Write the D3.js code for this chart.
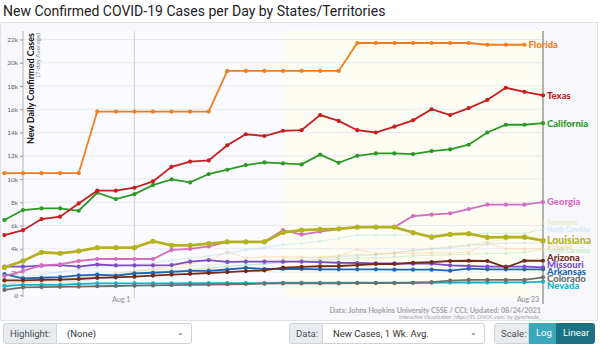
<!DOCTYPE html>
<html>
<head>
<meta charset="utf-8">
<script src="https://cdn.jsdelivr.net/npm/d3@7"></script>
<style>
  body { margin: 0; width: 600px; height: 346px; overflow: hidden; background: #fff; font-family: Roboto, "Liberation Sans", sans-serif; }
  #chart { position: absolute; left: 0; top: 0; }
  .grp { position: absolute; top: 323px; height: 21px; display: flex; font-size: 9.5px; color: #495057; }
  .grp div { flex: none; box-sizing: border-box; height: 21px; line-height: 19px; border: 1px solid #ced4da; white-space: nowrap; }
  .lab { background: #e9ecef; padding: 0 6px; border-radius: 3px 0 0 3px; }
  .sel { background: #fff; padding: 0 10px; border-left: none !important; border-radius: 0 3px 3px 0; position: relative; color: #333; }
  .sel span { position: absolute; right: 7px; top: -1px; font-size: 8px; color: #555; }
  .btn { color: #fff; padding: 0 7px; border: none !important; }
</style>
</head>
<body>
<svg id="chart" width="600" height="346"></svg>

<div class="grp" style="left:3px;width:189px">
  <div class="lab" style="width:54px">Highlight:</div>
  <div class="sel" style="width:135px">(None)<span>&#8964;</span></div>
</div>
<div class="grp" style="left:289px;width:196px">
  <div class="lab" style="width:34px">Data:</div>
  <div class="sel" style="width:162px">New Cases, 1 Wk. Avg.<span>&#8964;</span></div>
</div>
<div class="grp" style="left:494px;width:101px">
  <div class="lab" style="width:35px">Scale:</div>
  <div class="btn" style="width:27px;background:#3aa7bb">Log</div>
  <div class="btn" style="width:39px;background:#1c7283;border-radius:0 3px 3px 0">Linear</div>
</div>

<script>
// ---- data (7-day average of new daily cases) ----
var days = ["2021-07-25","2021-07-26","2021-07-27","2021-07-28","2021-07-29","2021-07-30",
            "2021-07-31","2021-08-01","2021-08-02","2021-08-03","2021-08-04","2021-08-05",
            "2021-08-06","2021-08-07","2021-08-08","2021-08-09","2021-08-10","2021-08-11",
            "2021-08-12","2021-08-13","2021-08-14","2021-08-15","2021-08-16","2021-08-17",
            "2021-08-18","2021-08-19","2021-08-20","2021-08-21","2021-08-22","2021-08-23"];

var florida    = [10500,10500,10500,10500,10500,15800,15800,15800,15800,15800,15800,15800,19300,19300,19300,19300,19300,19300,19300,21700,21700,21700,21700,21700,21700,21700,21550,21550,21550];
var texas      = [5180,5600,6560,6760,7900,9000,9000,9250,9800,11050,11500,11600,12900,13850,13700,14150,14200,15500,15000,14200,14000,14500,15050,16000,15500,16100,16800,17850,17500,17200];
var california = [6470,7330,7480,7480,7270,8820,8280,8700,9480,9970,9710,10430,10800,11200,11430,11350,11260,12100,11400,12000,12200,12200,12150,12400,12550,12950,14000,14670,14670,14800];
var georgia    = [1660,2090,2580,2660,2950,3120,3120,3120,3120,3900,4000,4200,4600,4600,4600,5600,5220,5480,5700,5870,5870,5870,6820,6930,7050,7420,7790,7790,7790,8020];
var louisiana  = [2400,2950,3700,3600,3800,4100,4100,4100,4650,4300,4300,4450,4600,4600,4600,5420,5600,5670,5720,5870,5870,5870,5400,5000,5240,5300,4990,5000,5000,4700];
var missouri   = [2460,2460,2550,2600,2460,2650,2570,2570,2580,2600,2890,3030,2870,2890,2890,2890,2890,2860,2800,2780,2750,2750,2720,2720,2580,2520,2460,2460,2460,2400];
var arizona    = [1290,1290,1320,1350,1400,1500,1550,1600,1700,1780,1850,1920,2000,2080,2150,2380,2440,2500,2520,2600,2690,2690,2800,2860,2950,2970,2950,2400,2970,2970];
var arkansas   = [1830,1460,1510,1570,1720,1780,1680,1890,1940,2020,2100,2100,2220,2360,2260,2280,2260,2230,2230,2230,2230,2200,2200,2200,2120,2290,2230,2230,2230,2230];
var colorado   = [460,690,710,730,750,780,800,830,850,880,900,920,950,970,1000,1030,1030,1030,1030,1050,1050,1050,1080,1140,1260,1320,1320,1320,1320,1550];
var nevada     = [800,890,890,890,970,1030,1030,1030,1030,1030,1050,1050,1050,1050,1050,1080,1080,1080,1080,1080,1080,1080,1080,1080,1100,1100,1100,1120,1120,1170];
var tennessee  = [1000,1100,1200,1300,1500,1600,1800,2000,2200,2300,2500,2600,2700,2900,3000,3100,3200,3300,3400,3500,3500,3700,3800,4000,4200,4300,4600,4800,5000,6200];
var northCarolina = [1400,1600,1800,2000,2200,2400,2500,2600,2800,3000,3200,3400,3600,3900,4100,4350,4450,4650,4900,5180,5180,5180,5180,5180,5330,5330,5330,5330,5330,5670];
var alabama    = [1000,1100,1200,1300,1500,1700,1900,2100,2300,2500,2700,3000,3750,3200,3300,3300,3300,3200,3400,3950,3600,3600,3600,3650,3650,3700,4500,4000,4000,4000];
var southCarolina = [800,900,1000,1100,1200,1400,1500,1700,1900,2000,2200,2300,2500,2600,2700,2800,2900,3000,3100,3200,3200,3300,3400,3450,3500,3550,3600,3600,3700,3950];
var mississippi = [1200,1300,1400,1500,1600,1700,1800,1900,2000,2100,2200,2350,2500,2600,2700,2900,3000,3100,3300,3400,3500,3600,3900,4000,4100,4300,4400,4500,4500,4500];

var yTickValues = [0,2000,4000,6000,8000,10000,12000,14000,16000,18000,20000,22000];
var xTickDays   = ["2021-08-01","2021-08-23"];
var highlightFrom = "2021-08-09";

// ---- series table (faint ones first so they sit underneath) ----
var series = [
  {name:"Mississippi",    values:mississippi,   color:"#aec7e8", faint:true, noLabel:true},
  {name:"South Carolina", values:southCarolina, color:"#98df8a", faint:true},
  {name:"Alabama",        values:alabama,       color:"#ffbb78", faint:true},
  {name:"North Carolina", values:northCarolina, color:"#9edae5", faint:true},
  {name:"Tennessee",      values:tennessee,     color:"#dbdb8d", faint:true},
  {name:"Nevada",         values:nevada,        color:"#17b3c8", big:true},
  {name:"Colorado",       values:colorado,      color:"#6e6e6e", big:true},
  {name:"Arkansas",       values:arkansas,      color:"#1f66b0", big:true},
  {name:"Missouri",       values:missouri,      color:"#7b4ec0", big:true},
  {name:"Arizona",        values:arizona,       color:"#74291b", big:true},
  {name:"Georgia",        values:georgia,       color:"#d66cc2"},
  {name:"Louisiana",      values:louisiana,     color:"#b4b31f", big:true, thick:true},
  {name:"California",     values:california,    color:"#2a9a25"},
  {name:"Texas",          values:texas,         color:"#c81d1d"},
  {name:"Florida",        values:florida,       color:"#f27d1c"}
];

var parse = d3.timeParse("%Y-%m-%d");
var svg = d3.select("#chart");

var x = d3.scaleTime()
    .domain([parse(days[0]), parse(days[days.length - 1])])
    .range([4.4, 543]);
var y = d3.scaleLinear()
    .domain([0, 22000])
    .range([295.3, 39.5]);

var plotTop = 31, plotBottom = 297, axisX = 23;

// chart box + backgrounds
svg.append("rect").attr("x", 0.5).attr("y", 22.5).attr("width", 597).attr("height", 298)
    .attr("fill", "#f7f7fc").attr("stroke", "#e2e2e8");
svg.append("rect").attr("x", axisX).attr("y", plotTop)
    .attr("width", x(parse(highlightFrom)) - axisX).attr("height", plotBottom - plotTop)
    .attr("fill", "#fafaff");
svg.append("rect").attr("x", x(parse(highlightFrom))).attr("y", plotTop)
    .attr("width", x(parse(days[days.length - 1])) - x(parse(highlightFrom))).attr("height", plotBottom - plotTop)
    .attr("fill", "#fdfdf3");

// title
svg.append("text").attr("x", 3).attr("y", 16)
    .style("font-family", "Roboto, sans-serif").style("font-size", "14px").style("fill", "#222")
    .text("New Confirmed COVID-19 Cases per Day by States/Territories");

// horizontal grid
svg.append("g").selectAll("line").data(yTickValues.slice(1)).enter().append("line")
    .attr("x1", axisX).attr("x2", 543)
    .attr("y1", function(d){ return y(d); }).attr("y2", function(d){ return y(d); })
    .attr("stroke", "#e9e9f0");

// y axis
var yAxis = svg.append("g").attr("transform", "translate(" + axisX + ",0)")
    .call(d3.axisLeft(y).tickValues(yTickValues).tickFormat(d3.format("~s")).tickSize(3).tickPadding(2));
yAxis.select(".domain").attr("stroke", "#b0b0b8").attr("d", "M0," + plotTop + "V" + plotBottom);
yAxis.selectAll(".tick line").attr("stroke", "#999");
yAxis.selectAll("text").style("font-size", "6.5px").style("fill", "#666").style("font-family", "Lato, sans-serif");

// x reference lines & labels
xTickDays.forEach(function(d, i){
    var xp = x(parse(d));
    svg.append("line").attr("x1", xp).attr("x2", xp).attr("y1", plotTop).attr("y2", i ? 304 : 298)
        .attr("stroke", i ? "#8d8d8d" : "#cfcfd4").attr("stroke-width", i ? 1.3 : 1);
    svg.append("text").attr("x", xp - 4).attr("y", 302).attr("text-anchor", "end")
        .style("font-family", "Lato, sans-serif").style("font-size", "7px").style("fill", "#8a8a8a")
        .text(d3.timeFormat("%b %-d")(parse(d)));
});

// axis titles
svg.append("text").attr("transform", "translate(34,33) rotate(-90)").attr("text-anchor", "end")
    .style("font-family", "Lato, sans-serif").style("font-weight", "bold").style("font-size", "9px").style("fill", "#111")
    .text("New Daily Confirmed Cases");
svg.append("text").attr("transform", "translate(40,33) rotate(-90)").attr("text-anchor", "end")
    .style("font-family", "Lato, sans-serif").style("font-size", "6.5px").style("fill", "#888")
    .text("(7-day Average)");

// lines + dots
var line = d3.line()
    .x(function(d){ return x(d.date); })
    .y(function(d){ return y(d.value); });

var labels = [];
series.forEach(function(s){
    var pts = s.values.map(function(v, i){ return {date: parse(days[i]), value: v}; });
    var g = svg.append("g").attr("opacity", s.faint ? 0.4 : 1);
    g.append("path").datum(pts).attr("d", line).attr("fill", "none")
        .attr("stroke", s.color).attr("stroke-width", s.thick ? 2.8 : (s.faint ? 1 : 1.8));
    g.selectAll("circle").data(pts).enter().append("circle")
        .attr("cx", function(d){ return x(d.date); })
        .attr("cy", function(d){ return y(d.value); })
        .attr("r", s.thick ? 2.6 : (s.faint ? 1.6 : 2.1))
        .attr("fill", s.color);
    if (!s.noLabel) {
        var last = pts[pts.length - 1];
        labels.push({s: s, x: x(last.date) + 4, y: y(last.value),
                     size: s.faint ? 6.5 : (s.thick ? 10.5 : (s.big ? 9.5 : 9.5)),
                     h: s.faint ? 3.5 : 7});
    }
});

// keep end labels from overlapping
labels.sort(function(a, b){ return a.y - b.y; });
for (var k = 0; k < 100; k++) {
    var moved = false;
    for (var i = 1; i < labels.length; i++) {
        var a = labels[i - 1], b = labels[i], gap = (a.h + b.h) / 2;
        if (b.y - a.y < gap) {
            var shift = (gap - (b.y - a.y)) / 2;
            a.y -= shift; b.y += shift; moved = true;
        }
    }
    if (!moved) break;
}

svg.append("g").selectAll("text").data(labels).enter().append("text")
    .attr("x", function(d){ return d.x; })
    .attr("y", function(d){ return d.y; })
    .attr("dy", "0.35em")
    .attr("opacity", function(d){ return d.s.faint ? 0.45 : 1; })
    .style("font-family", "Lato, sans-serif").style("font-weight", "900")
    .style("font-size", function(d){ return d.size + "px"; })
    .style("fill", function(d){ return d.s.color; })
    .text(function(d){ return d.s.name; });

// source notes
svg.append("text").attr("x", 541).attr("y", 313).attr("text-anchor", "end")
    .style("font-family", "Lato, sans-serif").style("font-weight", "bold").style("font-size", "7.2px").style("fill", "#a3a3a8")
    .text("Data: Johns Hopkins University CSSE / CCI; Updated: 08/24/2021");
svg.append("text").attr("x", 541).attr("y", 318.5).attr("text-anchor", "end")
    .style("font-family", "Lato, sans-serif").style("font-size", "5px").style("fill", "#a3a3a8")
    .text("Interactive Visualization: https://91-DIVOC.com/ by @profwade_");
</script>
</body>
</html>
